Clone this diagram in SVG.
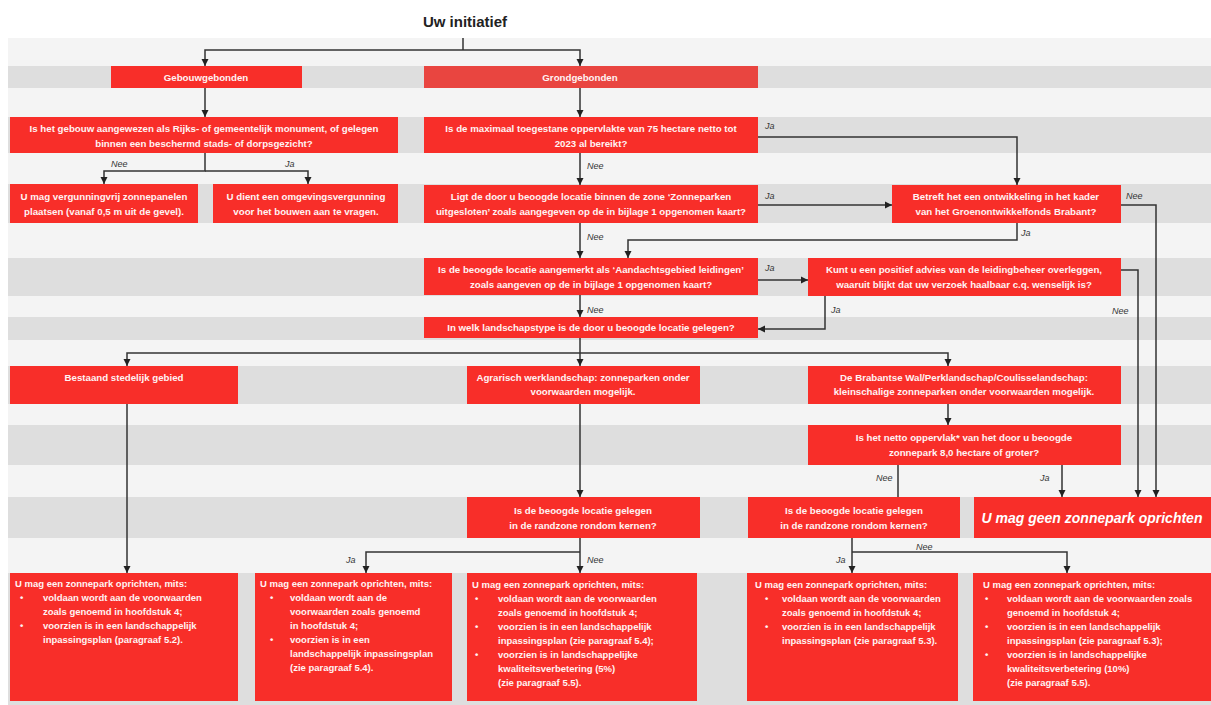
<svg xmlns="http://www.w3.org/2000/svg" width="1211" height="705" viewBox="0 0 1211 705">
<defs>
<style>
.lt{fill:#f4f4f4}
.dk{fill:#dedede}
.box{fill:#f82e29}
.box2{fill:#e94540}
.t{font-family:"Liberation Sans",Arial,sans-serif;font-size:9.7px;font-weight:bold;fill:#fff3f3;text-anchor:middle}
.tl{font-family:"Liberation Sans",Arial,sans-serif;font-size:9.5px;font-weight:bold;fill:#fff3f3}
.lbl{font-family:"Liberation Sans",Arial,sans-serif;font-size:9px;font-style:italic;fill:#333333}
.c{fill:none;stroke:#333333;stroke-width:1.5}
.a{marker-end:url(#ah)}
</style>
<marker id="ah" markerUnits="userSpaceOnUse" markerWidth="8" markerHeight="8" refX="7" refY="4" orient="auto">
<path d="M0,0.5 L7,4 L0,7.5 Z" fill="#222222"/>
</marker>
</defs>
<rect x="0" y="0" width="1211" height="705" fill="#ffffff"/>
<g id="bands">
<rect class="lt" x="8" y="38" width="1203" height="28"/>
<rect class="dk" x="8" y="66" width="1203" height="22"/>
<rect class="lt" x="8" y="88" width="1203" height="29"/>
<rect class="dk" x="8" y="117" width="1203" height="36"/>
<rect class="lt" x="8" y="153" width="1203" height="31"/>
<rect class="dk" x="8" y="184" width="1203" height="39"/>
<rect class="lt" x="8" y="223" width="1203" height="35"/>
<rect class="dk" x="8" y="258" width="1203" height="38"/>
<rect class="lt" x="8" y="296" width="1203" height="21"/>
<rect class="dk" x="8" y="317" width="1203" height="23"/>
<rect class="lt" x="8" y="340" width="1203" height="26"/>
<rect class="dk" x="8" y="366" width="1203" height="38"/>
<rect class="lt" x="8" y="404" width="1203" height="21"/>
<rect class="dk" x="8" y="425" width="1203" height="40"/>
<rect class="lt" x="8" y="465" width="1203" height="32"/>
<rect class="dk" x="8" y="497" width="1203" height="41"/>
<rect class="lt" x="8" y="538" width="1203" height="35"/>
<rect class="dk" x="8" y="573" width="1203" height="132"/>
</g>
<g id="title">
<text x="465" y="27" style="font-family:'Liberation Sans',Arial,sans-serif;font-size:15px;font-weight:bold;fill:#222222;text-anchor:middle">Uw initiatief</text>
</g>
<g id="connectors">
<path class="c" d="M463,38 V50"/>
<path class="c a" d="M463,50 H205 V66"/>
<path class="c a" d="M463,50 H580 V66"/>
<path class="c a" d="M205,88 V117"/>
<path class="c a" d="M205,153 V171 H104 V184"/>
<path class="c a" d="M205,171 H308 V184"/>
<path class="c a" d="M580,88 V117"/>
<path class="c a" d="M758,137 H1017 V185"/>
<path class="c a" d="M580,153 V185"/>
<path class="c a" d="M758,205 H892"/>
<path class="c a" d="M1121,205 H1156 V497"/>
<path class="c a" d="M1017,223 V240 H628 V258"/>
<path class="c a" d="M580,223 V258"/>
<path class="c a" d="M758,280 H808"/>
<path class="c a" d="M1121,270 H1138 V497"/>
<path class="c a" d="M825,296 V329 H758"/>
<path class="c a" d="M580,295 V317"/>
<path class="c a" d="M580,338 V366"/>
<path class="c a" d="M580,353 H127 V366"/>
<path class="c a" d="M580,353 H948 V366"/>
<path class="c a" d="M948,404 V425"/>
<path class="c" d="M898,465 V497"/>
<path class="c a" d="M1062,465 V497"/>
<path class="c a" d="M127,404 V573"/>
<path class="c a" d="M580,404 V497"/>
<path class="c a" d="M580,538 V573"/>
<path class="c a" d="M580,552 H366 V573"/>
<path class="c a" d="M852,538 V573"/>
<path class="c a" d="M852,552 H1067 V573"/>
<text class="lbl" x="111" y="167">Nee</text>
<text class="lbl" x="285" y="167">Ja</text>
<text class="lbl" x="765" y="129">Ja</text>
<text class="lbl" x="587" y="169">Nee</text>
<text class="lbl" x="765" y="199">Ja</text>
<text class="lbl" x="1126" y="199">Nee</text>
<text class="lbl" x="1021" y="236">Ja</text>
<text class="lbl" x="587" y="240">Nee</text>
<text class="lbl" x="765" y="271">Ja</text>
<text class="lbl" x="587" y="313">Nee</text>
<text class="lbl" x="831" y="313">Ja</text>
<text class="lbl" x="1112" y="314">Nee</text>
<text class="lbl" x="876" y="481">Nee</text>
<text class="lbl" x="1040" y="481">Ja</text>
<text class="lbl" x="346" y="563">Ja</text>
<text class="lbl" x="587" y="563">Nee</text>
<text class="lbl" x="916" y="550">Nee</text>
<text class="lbl" x="836" y="563">Ja</text>
</g>
<g id="n-gebouw">
<rect class="box" x="111" y="66" width="191" height="22"/>
<text class="t" x="206" y="81">Gebouwgebonden</text>
</g>
<g id="n-grond">
<rect class="box2" x="424" y="66" width="334" height="22"/>
<text class="t" x="580" y="81">Grondgebonden</text>
</g>
<g id="n-monument">
<rect class="box" x="10" y="117" width="388" height="36"/>
<text class="t" x="204" y="132">Is het gebouw aangewezen als Rijks- of gemeentelijk monument, of gelegen</text>
<text class="t" x="204" y="147">binnen een beschermd stads- of dorpsgezicht?</text>
</g>
<g id="n-vergunningvrij">
<rect class="box" x="10" y="184" width="188" height="39"/>
<text class="t" x="104" y="200">U mag vergunningvrij zonnepanelen</text>
<text class="t" x="104" y="215">plaatsen (vanaf 0,5 m uit de gevel).</text>
</g>
<g id="n-omgevingsvergunning">
<rect class="box" x="213" y="184" width="185" height="39"/>
<text class="t" x="306" y="200">U dient een omgevingsvergunning</text>
<text class="t" x="306" y="215">voor het bouwen aan te vragen.</text>
</g>
<g id="n-75ha">
<rect class="box" x="424" y="117" width="334" height="36"/>
<text class="t" x="591" y="132">Is de maximaal toegestane oppervlakte van 75 hectare netto tot</text>
<text class="t" x="591" y="147">2023 al bereikt?</text>
</g>
<g id="n-uitgesloten">
<rect class="box" x="424" y="185" width="334" height="38"/>
<text class="t" x="591" y="200">Ligt de door u beoogde locatie binnen de zone ‘Zonneparken</text>
<text class="t" x="591" y="215">uitgesloten’ zoals aangegeven op de in bijlage 1 opgenomen kaart?</text>
</g>
<g id="n-groenontwikkelfonds">
<rect class="box" x="892" y="185" width="229" height="38"/>
<text class="t" x="1006" y="200">Betreft het een ontwikkeling in het kader</text>
<text class="t" x="1006" y="215">van het Groenontwikkelfonds Brabant?</text>
</g>
<g id="n-leidingen">
<rect class="box" x="424" y="258" width="334" height="37"/>
<text class="t" x="591" y="273">Is de beoogde locatie aangemerkt als ‘Aandachtsgebied leidingen’</text>
<text class="t" x="591" y="288">zoals aangeven op de in bijlage 1 opgenomen kaart?</text>
</g>
<g id="n-advies">
<rect class="box" x="808" y="258" width="313" height="38"/>
<text class="t" x="964" y="273">Kunt u een positief advies van de leidingbeheer overleggen,</text>
<text class="t" x="964" y="288">waaruit blijkt dat uw verzoek haalbaar c.q. wenselijk is?</text>
</g>
<g id="n-landschapstype">
<rect class="box" x="424" y="317" width="334" height="21"/>
<text class="t" x="591" y="331">In welk landschapstype is de door u beoogde locatie gelegen?</text>
</g>
<g id="n-stedelijk">
<rect class="box" x="10" y="366" width="228" height="38"/>
<text class="t" x="124" y="381">Bestaand stedelijk gebied</text>
</g>
<g id="n-agrarisch">
<rect class="box" x="467" y="366" width="233" height="38"/>
<text class="t" x="583" y="381">Agrarisch werklandschap: zonneparken onder</text>
<text class="t" x="583" y="395">voorwaarden mogelijk.</text>
</g>
<g id="n-brabantse">
<rect class="box" x="808" y="366" width="313" height="38"/>
<text class="t" x="964" y="381">De Brabantse Wal/Perklandschap/Coulisselandschap:</text>
<text class="t" x="964" y="395">kleinschalige zonneparken onder voorwaarden mogelijk.</text>
</g>
<g id="n-netto">
<rect class="box" x="808" y="425" width="313" height="40"/>
<text class="t" x="964" y="441">Is het netto oppervlak* van het door u beoogde</text>
<text class="t" x="964" y="456">zonnepark 8,0 hectare of groter?</text>
</g>
<g id="n-randzone1">
<rect class="box" x="467" y="497" width="233" height="41"/>
<text class="t" x="583" y="514">Is de beoogde locatie gelegen</text>
<text class="t" x="583" y="529">in de randzone rondom kernen?</text>
</g>
<g id="n-randzone2">
<rect class="box" x="748" y="497" width="212" height="41"/>
<text class="t" x="854" y="514">Is de beoogde locatie gelegen</text>
<text class="t" x="854" y="529">in de randzone rondom kernen?</text>
</g>
<g id="n-geen">
<rect class="box" x="974" y="497" width="237" height="41"/>
<text x="1092" y="523" style="font-family:'Liberation Sans',Arial,sans-serif;font-size:14px;font-weight:bold;font-style:italic;fill:#ffffff;text-anchor:middle">U mag geen zonnepark oprichten</text>
</g>
<g id="n-res1">
<rect class="box" x="10" y="573" width="228" height="128"/>
<text class="tl" x="15" y="587">U mag een zonnepark oprichten, mits:</text>
<text class="tl" x="20" y="601">•</text><text class="tl" x="43" y="601">voldaan wordt aan de voorwaarden</text>
<text class="tl" x="43" y="615">zoals genoemd in hoofdstuk 4;</text>
<text class="tl" x="20" y="629">•</text><text class="tl" x="43" y="629">voorzien is in een landschappelijk</text>
<text class="tl" x="43" y="643">inpassingsplan (paragraaf 5.2).</text>
</g>
<g id="n-res2">
<rect class="box" x="255" y="573" width="197" height="128"/>
<text class="tl" x="260" y="587">U mag een zonnepark oprichten, mits:</text>
<text class="tl" x="270" y="601">•</text><text class="tl" x="290" y="601">voldaan wordt aan de</text>
<text class="tl" x="290" y="615">voorwaarden zoals genoemd</text>
<text class="tl" x="290" y="629">in hoofdstuk 4;</text>
<text class="tl" x="270" y="643">•</text><text class="tl" x="290" y="643">voorzien is in een</text>
<text class="tl" x="290" y="657">landschappelijk inpassingsplan</text>
<text class="tl" x="290" y="671">(zie paragraaf 5.4).</text>
</g>
<g id="n-res3">
<rect class="box" x="467" y="573" width="230" height="128"/>
<text class="tl" x="472" y="588">U mag een zonnepark oprichten, mits:</text>
<text class="tl" x="475" y="602">•</text><text class="tl" x="498" y="602">voldaan wordt aan de voorwaarden</text>
<text class="tl" x="498" y="616">zoals genoemd in hoofdstuk 4;</text>
<text class="tl" x="475" y="630">•</text><text class="tl" x="498" y="630">voorzien is in een landschappelijk</text>
<text class="tl" x="498" y="644">inpassingsplan (zie paragraaf 5.4);</text>
<text class="tl" x="475" y="658">•</text><text class="tl" x="498" y="658">voorzien is in landschappelijke</text>
<text class="tl" x="498" y="672">kwaliteitsverbetering (5%)</text>
<text class="tl" x="498" y="686">(zie paragraaf 5.5).</text>
</g>
<g id="n-res4">
<rect class="box" x="747" y="573" width="211" height="128"/>
<text class="tl" x="755" y="588">U mag een zonnepark oprichten, mits:</text>
<text class="tl" x="765" y="602">•</text><text class="tl" x="782" y="602">voldaan wordt aan de voorwaarden</text>
<text class="tl" x="782" y="616">zoals genoemd in hoofdstuk 4;</text>
<text class="tl" x="765" y="630">•</text><text class="tl" x="782" y="630">voorzien is in een landschappelijk</text>
<text class="tl" x="782" y="644">inpassingsplan (zie paragraaf 5.3).</text>
</g>
<g id="n-res5">
<rect class="box" x="973" y="573" width="238" height="128"/>
<text class="tl" x="983" y="588">U mag een zonnepark oprichten, mits:</text>
<text class="tl" x="985" y="602">•</text><text class="tl" x="1007" y="602">voldaan wordt aan de voorwaarden zoals</text>
<text class="tl" x="1007" y="616">genoemd in hoofdstuk 4;</text>
<text class="tl" x="985" y="630">•</text><text class="tl" x="1007" y="630">voorzien is in een landschappelijk</text>
<text class="tl" x="1007" y="644">inpassingsplan (zie paragraaf 5.3);</text>
<text class="tl" x="985" y="658">•</text><text class="tl" x="1007" y="658">voorzien is in landschappelijke</text>
<text class="tl" x="1007" y="672">kwaliteitsverbetering (10%)</text>
<text class="tl" x="1007" y="686">(zie paragraaf 5.5).</text>
</g>
</svg>
